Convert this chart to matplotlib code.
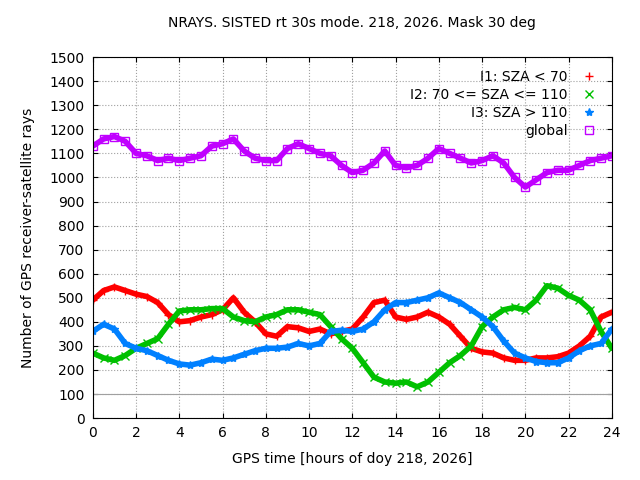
import numpy as np
import matplotlib
matplotlib.use("Agg")
import matplotlib.pyplot as plt

hours = np.arange(0, 24.01, 0.5)
i1 = [490, 530, 545, 530, 515, 505, 480, 430, 400, 405, 420, 430, 450, 500, 440, 400, 350, 340, 380, 375,
      360, 370, 350, 360, 370, 420, 480, 490, 420, 410, 420, 440, 420, 390, 340, 290, 275, 270, 250, 240,
      240, 250, 250, 255, 270, 300, 340, 420, 440]
i2 = [270, 250, 240, 260, 290, 310, 330, 390, 445, 450, 450, 455, 455, 420, 405, 400, 420, 430, 450, 450,
      440, 430, 380, 330, 290, 230, 170, 150, 145, 150, 130, 150, 190, 230, 260, 300, 380, 420, 450, 460,
      450, 490, 550, 540, 510, 490, 450, 360, 290]
i3 = [360, 390, 370, 310, 290, 280, 260, 240, 225, 220, 230, 245, 240, 250, 265, 280, 290, 290, 295, 310,
      300, 310, 360, 365, 360, 370, 400, 450, 480, 480, 490, 500, 520, 500, 480, 450, 420, 380, 320, 270,
      250, 235, 230, 230, 250, 280, 300, 310, 370]
glob = [1130, 1160, 1170, 1150, 1100, 1090, 1070, 1080, 1070, 1080, 1090, 1130, 1140, 1160, 1110, 1080,
        1070, 1070, 1120, 1140, 1120, 1100, 1090, 1050, 1020, 1030, 1060, 1110, 1050, 1040, 1050, 1080,
        1120, 1100, 1080, 1060, 1070, 1090, 1060, 1000, 960, 990, 1020, 1030, 1030, 1050, 1070, 1080, 1090]

series = [
    (i1, "I1: SZA < 70", "#ff0000", "+"),
    (i2, "I2: 70 <= SZA <= 110", "#00c000", "x"),
    (i3, "I3: SZA > 110", "#0080ff", "*"),
    (glob, "global", "#c000ff", "s"),
]

fig = plt.figure(figsize=(6.4, 4.8), dpi=100)
ax = fig.add_axes([0.145, 0.129, 0.811, 0.752])
for vals, lab, col, mk in series:
    ax.plot(hours, vals, color=col, lw=4, solid_capstyle="round")
    ax.plot(hours, vals, color=col, ls="none", marker=mk, ms=6,
            mfc="none" if mk == "s" else col, label=lab)

ax.axhline(100, color="#a0a0a0", lw=0.8)
ax.set_xlim(0, 24)
ax.set_ylim(0, 1500)
ax.set_xticks(range(0, 25, 2))
ax.set_yticks(range(0, 1501, 100))
ax.grid(True, color="#a0a0a0", ls=":", lw=0.8)
ax.tick_params(direction="in", top=True, right=True, labelsize=10, pad=6)
ax.set_xlabel("GPS time [hours of doy 218, 2026]", fontsize=10, labelpad=8)
ax.set_ylabel("Number of GPS receiver-satellite rays", fontsize=10, labelpad=10)
ax.set_title("NRAYS. SISTED rt 30s mode. 218, 2026. Mask 30 deg", fontsize=10, pad=22)
leg = ax.legend(loc="upper right", frameon=False, markerfirst=False, fontsize=10,
                handlelength=1.5, labelspacing=0.3)
for t in leg.get_texts():
    t.set_ha("right")
leg._legend_box.align = "right"
fig.savefig("out.png")
